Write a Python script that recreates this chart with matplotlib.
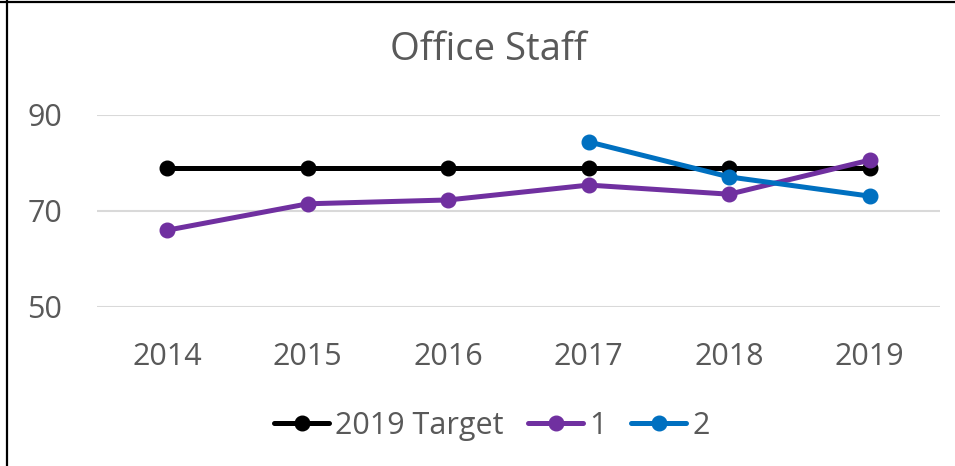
import matplotlib
matplotlib.use("Agg")
import matplotlib.pyplot as plt
from matplotlib.lines import Line2D

years = ["2014", "2015", "2016", "2017", "2018", "2019"]
target = [79, 79, 79, 79, 79, 79]
series_1 = [66.0, 71.5, 72.3, 75.4, 73.5, 80.6]
series_2_years = ["2017", "2018", "2019"]
series_2 = [84.4, 77.1, 73.1]

TXT = "#595959"
plt.rcParams["font.family"] = ["Open Sans", "DejaVu Sans"]

W, H = 955, 466
fig = plt.figure(figsize=(W / 100, H / 100), dpi=100)
ax = fig.add_axes([97 / W, 1 - 307 / H, (940 - 97) / W, (307 - 115) / H])

x = list(range(len(years)))
x2 = [years.index(y) for y in series_2_years]
style = dict(lw=3.6, marker="o", ms=10.5, solid_capstyle="round")
ax.plot(x, target, color="black", label="2019 Target", **style)
ax.plot(x, series_1, color="#7030A0", label="1", **style)
ax.plot(x2, series_2, color="#0070C0", label="2", **style)

ax.set_xlim(-0.5, len(years) - 0.5)
ax.set_ylim(50, 90)
ax.set_yticks([50, 70, 90])
ax.set_xticks(x)
ax.set_xticklabels(years)
ax.grid(axis="y", color="#D9D9D9", lw=1.5)
ax.set_axisbelow(True)
for s in ax.spines.values():
    s.set_visible(False)
ax.tick_params(length=0, labelsize=22, colors=TXT)
ax.tick_params(axis="y", pad=25)
ax.tick_params(axis="x", pad=25)

fig.text(488 / W, 1 - 50 / H, "Office Staff", ha="center", va="center",
         fontsize=27.5, color=TXT)

leg = fig.legend(loc="center", bbox_to_anchor=(0.515, 1 - 426 / H), ncol=3,
                 frameon=False, fontsize=22, handlelength=1.8, handletextpad=0.2,
                 columnspacing=0.8, labelcolor=TXT)

# cell borders
fig.add_artist(Line2D([7 / W, 7 / W], [0, 1], transform=fig.transFigure,
                      color="black", lw=1.6))
fig.add_artist(Line2D([0, 1], [1 - 1.5 / H, 1 - 1.5 / H], transform=fig.transFigure,
                      color="black", lw=1.6))

fig.savefig("out.png", dpi=100)
